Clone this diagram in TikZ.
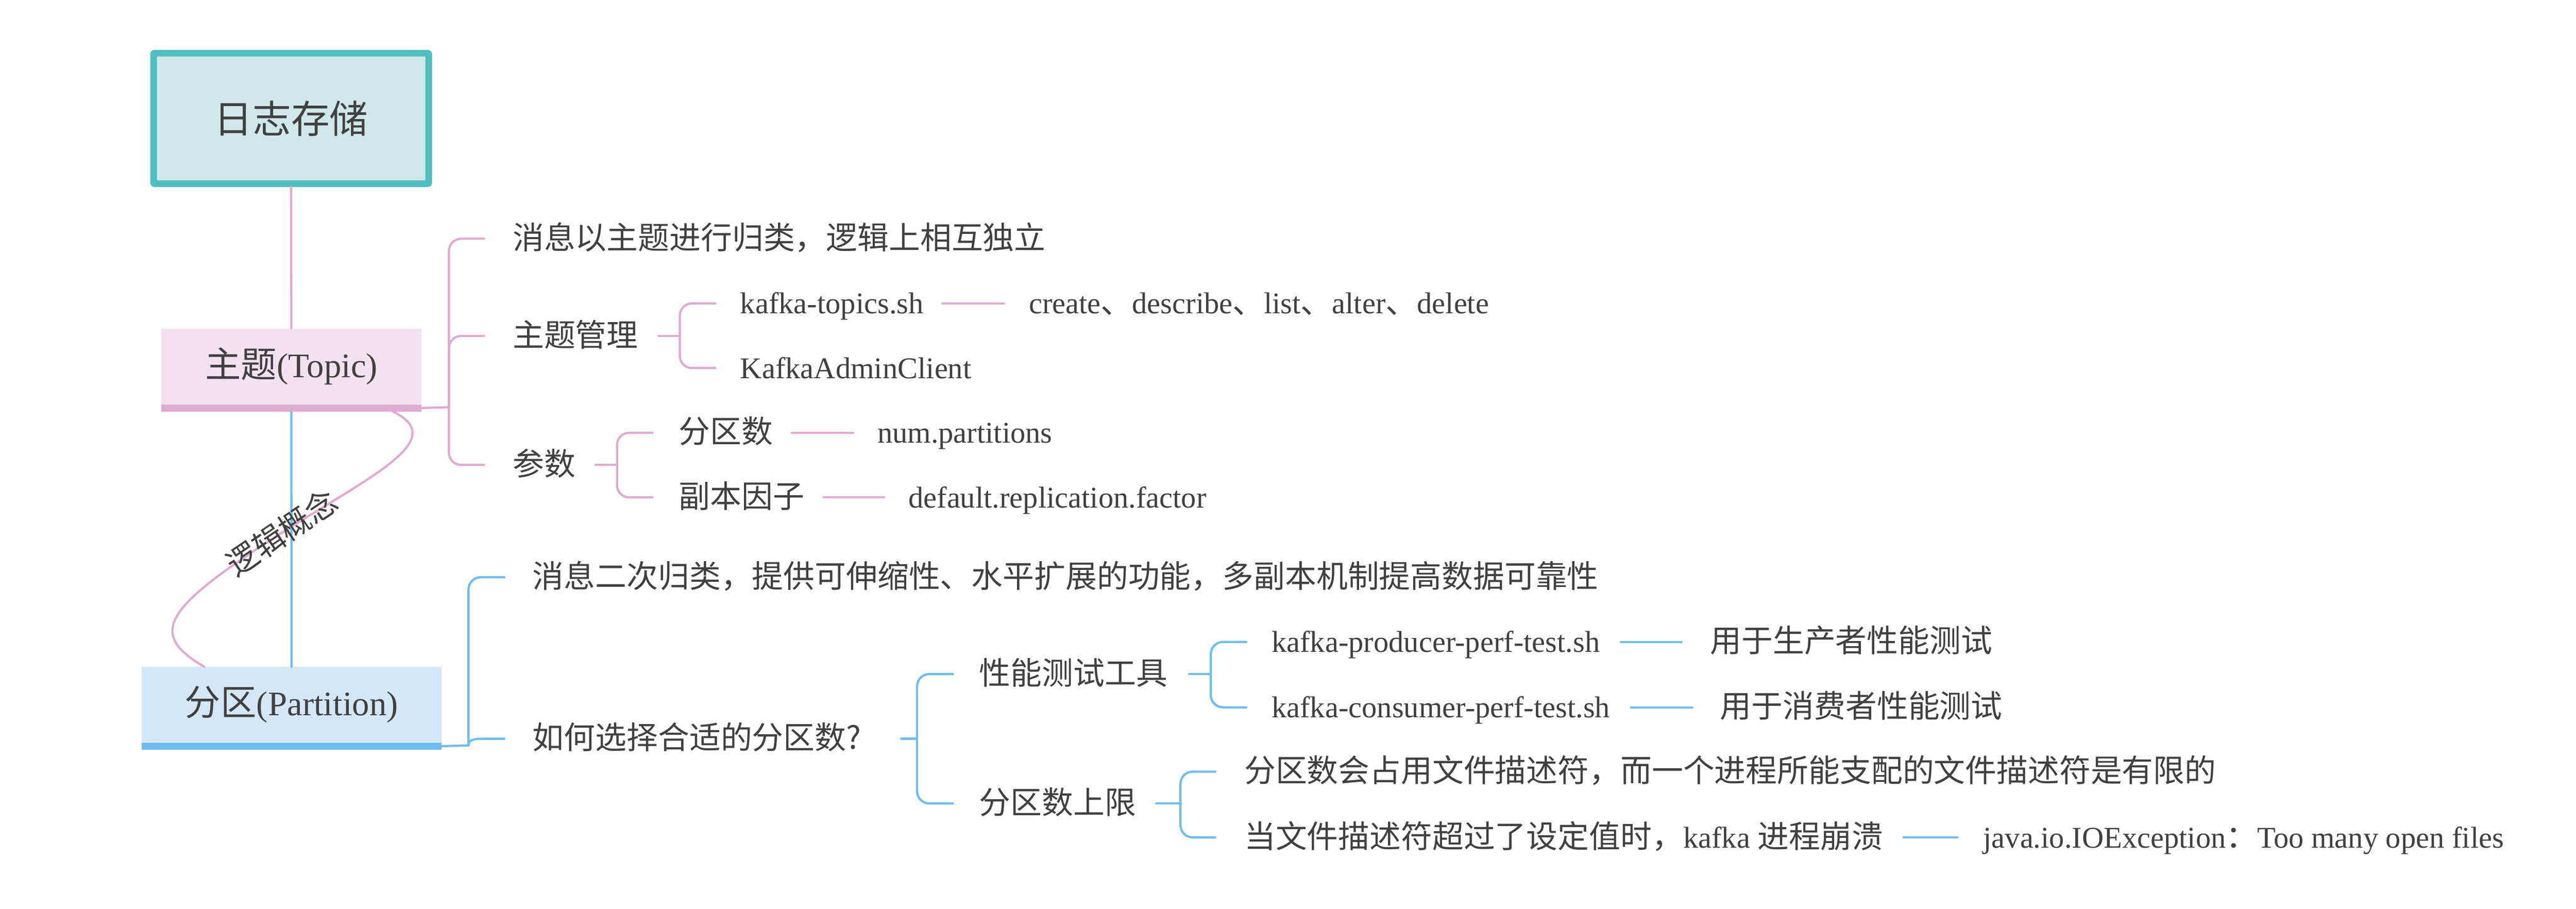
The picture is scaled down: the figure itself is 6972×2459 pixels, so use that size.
\documentclass[tikz,border=0pt]{standalone}
\usepackage{fontspec}
\setmainfont{Liberation Serif}
\newfontfamily\cjk{Noto Sans CJK SC}[Scale=1.04]
\usetikzlibrary{calc}
\definecolor{txt}{HTML}{404040}
\definecolor{pinkln}{HTML}{E0AAD2}
\definecolor{blueln}{HTML}{6EBCEF}
\definecolor{rootfill}{HTML}{D0E8EA}
\definecolor{rootborder}{HTML}{50BEC0}
\definecolor{topicfill}{HTML}{F2E1EF}
\definecolor{partfill}{HTML}{D4E7F8}
\begin{document}
\begin{tikzpicture}[x=0.01cm, y=-0.01cm,
  lbl/.style={anchor=west, inner sep=0pt, text=txt, font=\fontsize{23.2pt}{28pt}\selectfont, text height=18.5pt, text depth=2.5pt},
  pl/.style={draw=pinkln, line width=0.06cm, line cap=round},
  bl/.style={draw=blueln, line width=0.06cm, line cap=round},
  br/.style={rounded corners=0.33cm},
  mainnode/.style={inner sep=0pt, text=txt, font=\fontsize{26.5pt}{32pt}\selectfont},
  barnode/.style={inner sep=0pt, anchor=north, minimum height=0.19cm}
]
\fill[white] (0,0) rectangle (6972,2459);
\useasboundingbox (0,0) rectangle (6972,2459);

% root and first-level nodes
\node[draw=rootborder, line width=0.18cm, fill=rootfill, rounded corners=0.03cm,
      minimum width=7.44cm, minimum height=3.53cm, inner sep=0pt, text=txt,
      font=\cjk\fontsize{28.5pt}{34pt}\selectfont] (root) at (788,320.5) {日志存储};
\node[mainnode, fill=topicfill, minimum width=7.05cm, minimum height=2.04cm] (topic) at (788.5,991) {{\cjk 主题}(Topic)};
\node[barnode, fill=pinkln, minimum width=7.05cm] (tbar) at (topic.south) {};
\node[mainnode, fill=partfill, minimum width=8.12cm, minimum height=2.03cm] (part) at (789,1906.5) {{\cjk 分区}(Partition)};
\node[barnode, fill=blueln, minimum width=8.12cm] (pbar) at (part.south) {};

\draw[pl] (root.south) -- (topic.north);
\draw[bl] (tbar.south) -- (part.north);

% relation curve
\coordinate (lc) at (759,1444);
\draw[pl] ($(tbar.south west)+(629,0)$) .. controls (1221,1190) and (998,1291) .. (lc)
          .. controls (447,1644) and (396,1713) .. ($(part.north west)+(171,0)$);
\node[rotate=34, inner sep=0pt, text=txt, font=\cjk\fontsize{23.2pt}{28pt}\selectfont] (lg) at (762,1440) {逻辑概念};

% ---------- Topic branch ----------
\coordinate (TB) at (1215,1102);
\draw[pl] (tbar.east) -- (TB);
\node[lbl] (t1) at (1387,646) {\cjk 消息以主题进行归类，逻辑上相互独立};
\node[lbl] (t2) at (1387,909) {\cjk 主题管理};
\node[lbl] (t3) at (1387,1258) {\cjk 参数};
\foreach \n in {t1,t2,t3} \draw[pl, br] (TB) |- ($(\n.west)+(-77,0)$);

% topic management
\coordinate (B2) at (1840,909);
\draw[pl] ($(t2.east)+(55,0)$) -- (B2);
\node[lbl] (kt) at (2003,821) {kafka-topics.sh};
\node[lbl] (kac) at (2003,996) {KafkaAdminClient};
\foreach \n in {kt,kac} \draw[pl, br] (B2) |- ($(\n.west)+(-67,0)$);
\node[lbl] (kcmd) at (2784,821) {create{\cjk 、}describe{\cjk 、}list{\cjk 、}alter{\cjk 、}delete};
\draw[pl] ($(kt.east)+(50,0)$) -- ($(kcmd.west)+(-67,0)$);

% parameters
\coordinate (B3) at (1670,1258);
\draw[pl] ($(t3.east)+(54,0)$) -- (B3);
\node[lbl] (fq) at (1837,1171) {\cjk 分区数};
\node[lbl] (fb) at (1837,1346) {\cjk 副本因子};
\foreach \n in {fq,fb} \draw[pl, br] (B3) |- ($(\n.west)+(-71,0)$);
\node[lbl] (np) at (2374,1171) {num.partitions};
\draw[pl] ($(fq.east)+(50,0)$) -- ($(np.west)+(-65,0)$);
\node[lbl] (drf) at (2458,1346) {default.replication.factor};
\draw[pl] ($(fb.east)+(51,0)$) -- ($(drf.west)+(-65,0)$);

% ---------- Partition branch ----------
\coordinate (PB) at (1268,2017);
\draw[bl] (pbar.east) -- (PB);
\node[lbl] (p1) at (1441,1562) {\cjk 消息二次归类，提供可伸缩性、水平扩展的功能，多副本机制提高数据可靠性};
\node[lbl] (p2) at (1441,1999) {\cjk 如何选择合适的分区数?};
\draw[bl, br] (PB) |- ($(p1.west)+(-76,0)$);
\draw[bl] (PB) .. controls (1268,2002) and (1280,1999) .. (1310,1999) -- ($(p2.west)+(-76,0)$);

\coordinate (B5) at (2482,1999);
\draw[bl] ($(p2.east)+(108,0)$) -- (B5);
\node[lbl] (q1) at (2650,1824) {\cjk 性能测试工具};
\node[lbl] (q2) at (2650,2174) {\cjk 分区数上限};
\foreach \n in {q1,q2} \draw[bl, br] (B5) |- ($(\n.west)+(-71,0)$);

% performance tools
\coordinate (B6) at (3277,1824);
\draw[bl] ($(q1.east)+(58,0)$) -- (B6);
\node[lbl] (kp) at (3441,1737) {kafka-producer-perf-test.sh};
\node[lbl] (kc) at (3441,1914) {kafka-consumer-perf-test.sh};
\foreach \n in {kp,kc} \draw[bl, br] (B6) |- ($(\n.west)+(-68,0)$);
\node[lbl] (up) at (4628,1737) {\cjk 用于生产者性能测试};
\node[lbl] (uc) at (4655,1914) {\cjk 用于消费者性能测试};
\draw[bl] ($(kp.east)+(56,0)$) -- ($(up.west)+(-77,0)$);
\draw[bl] ($(kc.east)+(56,0)$) -- ($(uc.west)+(-75,0)$);

% partition limit
\coordinate (B7) at (3195,2174);
\draw[bl] ($(q2.east)+(54,0)$) -- (B7);
\node[lbl] (r1) at (3367,2088) {\cjk 分区数会占用文件描述符，而一个进程所能支配的文件描述符是有限的};
\node[lbl] (r2) at (3367,2266) {{\cjk 当文件描述符超过了设定值时，}kafka {\cjk 进程崩溃}};
\foreach \n in {r1,r2} \draw[bl, br] (B7) |- ($(\n.west)+(-78,0)$);
\node[lbl] (jx) at (5367,2266) {java.io.IOException{\cjk ：}Too many open files};
\draw[bl] ($(r2.east)+(55,0)$) -- ($(jx.west)+(-69,0)$);
\end{tikzpicture}
\end{document}
